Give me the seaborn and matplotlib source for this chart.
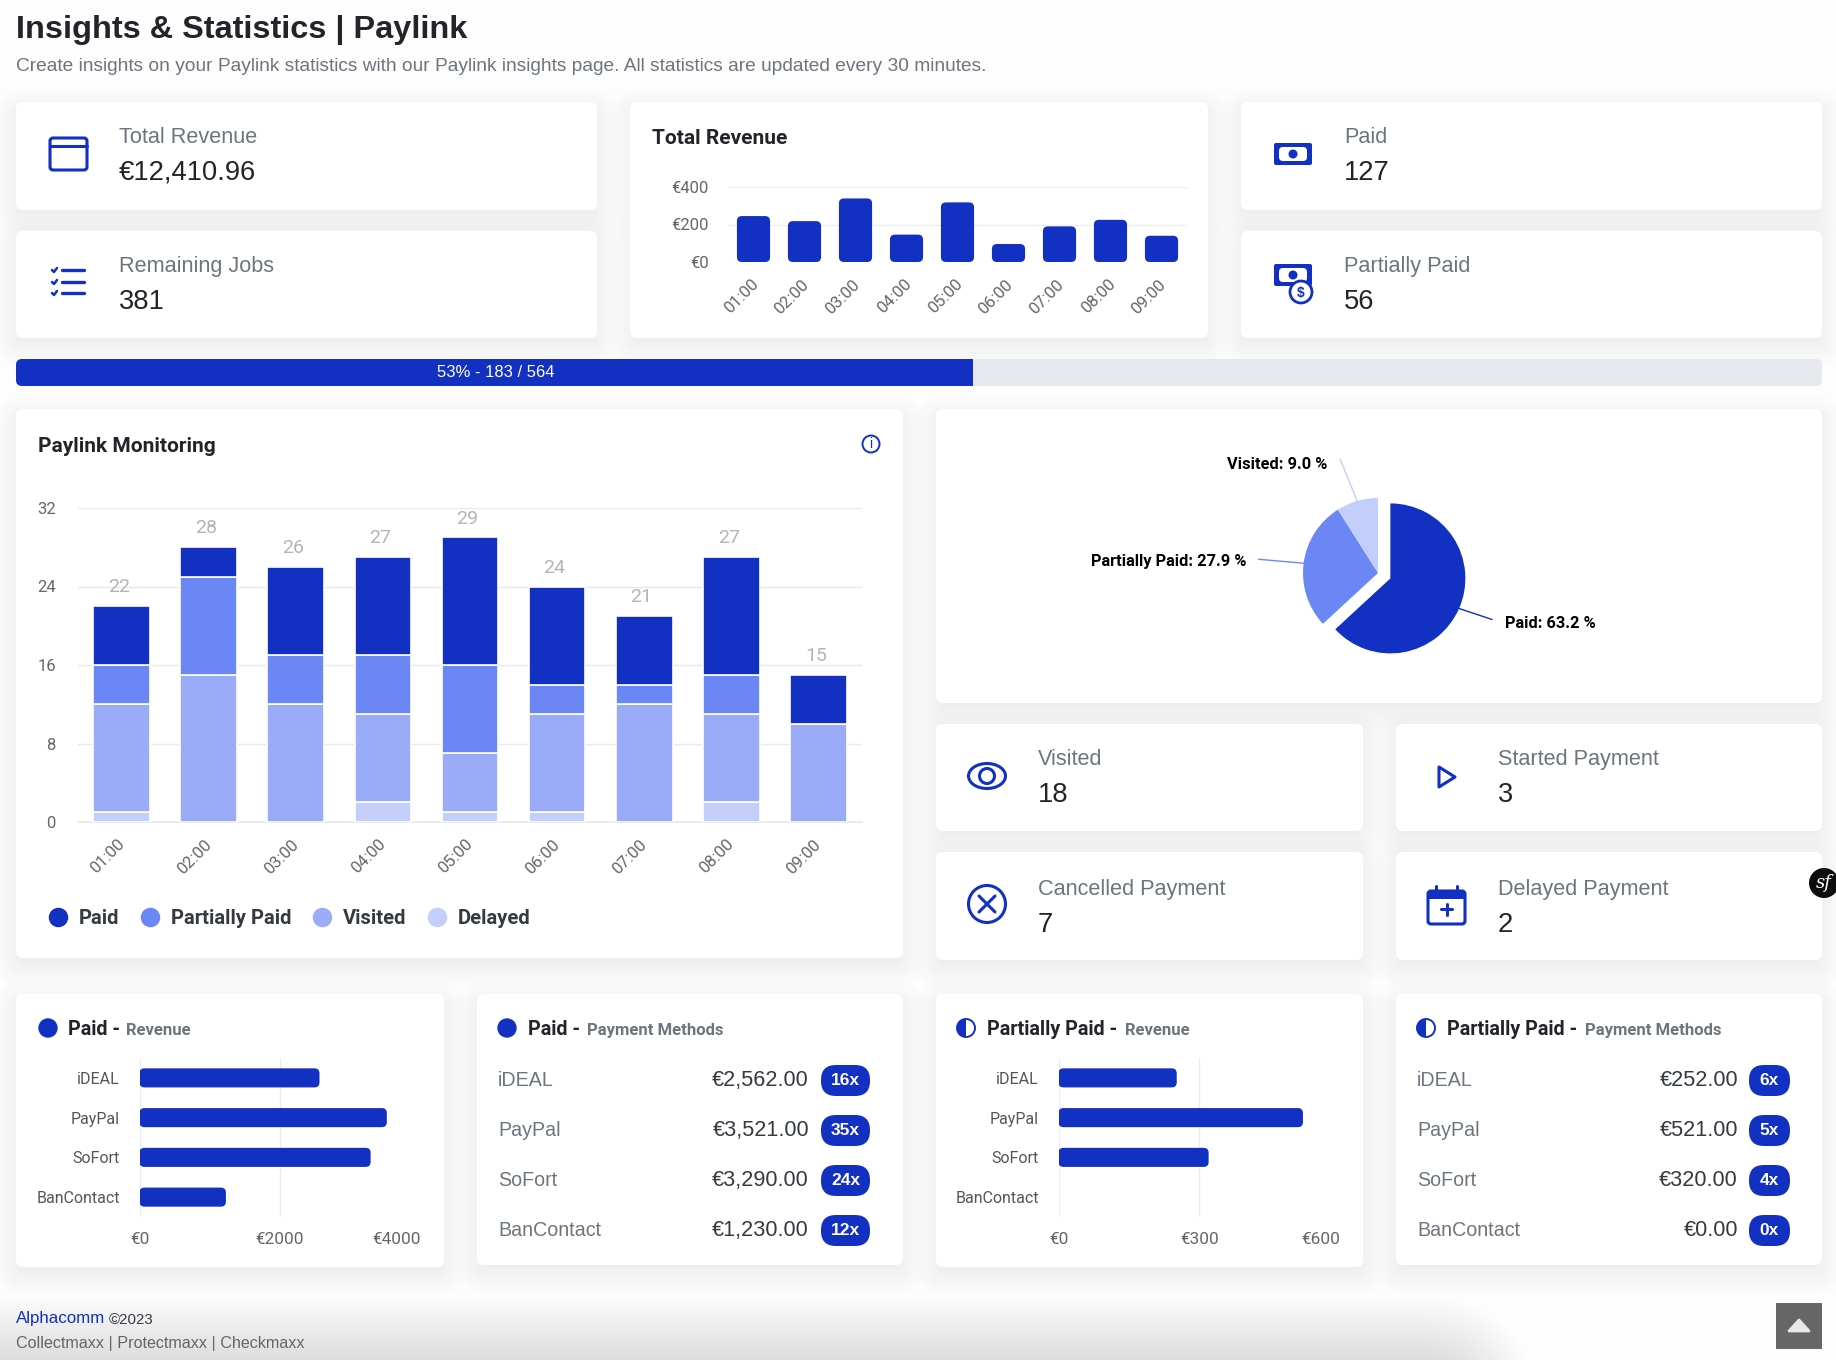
import matplotlib
matplotlib.use("Agg")
import matplotlib.pyplot as plt
import numpy as np
import seaborn as sns
from matplotlib.lines import Line2D
from matplotlib.patches import Circle, Ellipse, FancyBboxPatch, Polygon, Rectangle, Wedge
from matplotlib.transforms import ScaledTranslation

W, H = 1836, 1360

BLUE = "#1230c1"
MID = "#6b87f6"
SOFT = "#9aabf7"
PALE = "#c3cefb"
DARK = "#212529"
GRAY = "#6c757d"

hours = ["01:00", "02:00", "03:00", "04:00", "05:00", "06:00", "07:00", "08:00", "09:00"]
revenue = [245, 218, 339, 146, 318, 96, 190, 225, 140]

paid = [6, 3, 9, 10, 13, 10, 7, 12, 5]
partial = [4, 10, 5, 6, 9, 3, 2, 4, 0]
visited = [11, 15, 12, 9, 6, 10, 12, 9, 10]
delayed = [1, 0, 0, 2, 1, 1, 0, 2, 0]

pie_labels = ["Paid", "Partially Paid", "Visited"]
pie_values = [63.2, 27.9, 9.0]

methods = ["iDEAL", "PayPal", "SoFort", "BanContact"]
paid_amounts = [2562, 3521, 3290, 1230]
paid_counts = [16, 35, 24, 12]
part_amounts = [252, 521, 320, 0]
part_counts = [6, 5, 4, 0]

sns.set_theme(style="white")
plt.rcParams["font.family"] = ["Liberation Sans", "DejaVu Sans"]

fig = plt.figure(figsize=(W / 100, H / 100), dpi=100, facecolor="#fdfdfd")
bg = fig.add_axes([0, 0, 1, 1], zorder=0)
bg.set_xlim(0, W)
bg.set_ylim(H, 0)
bg.axis("off")


def px_axes(left, top, right, bottom):
    ax = fig.add_axes([left / W, 1 - bottom / H, (right - left) / W, (bottom - top) / H], zorder=2)
    ax.patch.set_alpha(0)
    return ax


def card(x0, y0, x1, y1):
    # soft bootstrap style shadow, built from stacked translucent boxes
    for g in range(-8, 24, 2):
        bg.add_patch(FancyBboxPatch((x0 - g, y0 + 8 - g), x1 - x0 + 2 * g, y1 - y0 + 2 * g,
                                    boxstyle=f"round,pad=0,rounding_size={max(g + 8, 1)}",
                                    fc="black", ec="none", alpha=0.0045, zorder=1))
    bg.add_patch(FancyBboxPatch((x0, y0), x1 - x0, y1 - y0, boxstyle="round,pad=0,rounding_size=7",
                                fc="white", ec="none", zorder=2))


def txt(x, y, s, size, color=DARK, weight="normal", ha="left", family=None, **kw):
    if family:
        kw["family"] = family
    return bg.text(x, y + 1.8, s, fontsize=size, color=color, fontweight=weight, ha=ha, va="center", zorder=6, **kw)


def stat(x, y, label, value):
    txt(x, y + 34, label, 15.6, GRAY)
    txt(x, y + 69, value, 19.7, DARK)


def line(xs, ys, lw=2.2, color=BLUE):
    bg.plot(xs, ys, color=color, lw=lw, zorder=6, solid_capstyle="round", solid_joinstyle="round")


def slanted(ax, shift):
    # rotated hour labels end just past the bar centre
    off = ScaledTranslation(shift / 100, 0, fig.dpi_scale_trans)
    for lab in ax.get_xticklabels():
        lab.set(rotation=45, ha="right", rotation_mode="anchor", family="Roboto")
        lab.set_transform(lab.get_transform() + off)
    for lab in ax.get_yticklabels():
        lab.set_family("Roboto")


def round_bars(ax, radius):
    # chart.js style rounded bars: swap the seaborn rectangles for rounded ones
    box = ax.get_window_extent()
    xl = ax.get_xlim()
    yl = ax.get_ylim()
    rx = radius * abs(xl[1] - xl[0]) / box.width
    ry = radius * abs(yl[1] - yl[0]) / box.height
    for p in list(ax.patches):
        x, y, w, h = p.get_x(), p.get_y(), p.get_width(), p.get_height()
        fc = p.get_facecolor()
        p.remove()
        if w == 0 or h == 0:
            continue
        ax.add_patch(FancyBboxPatch((x, y), w, h, boxstyle=f"round,pad=0,rounding_size={rx}",
                                    mutation_aspect=ry / rx, fc=fc, ec="none", zorder=3))


def hbar_chart(left, right, values, ticks, tick_labels):
    ax = px_axes(left, 1058, right, 1217)
    sns.barplot(x=values, y=methods, orient="h", color=BLUE, saturation=1, width=0.48, ax=ax)
    ax.set_xlim(ticks[0], ticks[-1])
    ax.set_ylim(3.5, -0.5)
    ax.set_xticks(ticks, tick_labels)
    ax.grid(axis="x", color="#ececec", lw=1)
    ax.xaxis.get_gridlines()[-1].set_visible(False)
    ax.set_axisbelow(True)
    sns.despine(ax=ax, left=True, bottom=True, top=True, right=True)
    ax.tick_params(axis="x", length=0, pad=11, labelsize=12.4, labelcolor="#666666")
    ax.tick_params(axis="y", length=0, pad=14, labelsize=11.5, labelcolor="#555555")
    ax.get_xticklabels()[-1].set_ha("right")
    for lab in ax.get_xticklabels() + ax.get_yticklabels():
        lab.set_family("Roboto")
    ax.set(xlabel="", ylabel="")
    round_bars(ax, 5)


def pay_list(label_x, amount_x, pill_l, pill_r, amounts, counts):
    for i, m in enumerate(methods):
        y = [1079, 1129, 1179, 1229][i]
        txt(label_x, y, m, 14.1, GRAY)
        txt(amount_x, y, f"€{amounts[i]:,.2f}", 15.6, "#343a40", ha="right")
        bg.add_patch(FancyBboxPatch((pill_l, y - 14), pill_r - pill_l, 31,
                                    boxstyle="round,pad=0,rounding_size=15", fc=BLUE, ec="none", zorder=5))
        txt((pill_l + pill_r) / 2, y, f"{counts[i]}x", 12.5, "white", "bold", ha="center")


# footer shadow along the bottom edge
for g in range(0, 100, 4):
    bg.add_patch(FancyBboxPatch((-200 - g, 1392 - g), 1640 + 2 * g, 200,
                                boxstyle=f"round,pad=0,rounding_size={30 + g}",
                                fc="black", ec="none", alpha=0.006, zorder=1))

txt(16, 28, "Insights & Statistics | Paylink", 23.4, DARK, "bold")
txt(16, 65, "Create insights on your Paylink statistics with our Paylink insights page. All statistics are updated every 30 minutes.",
    13.8, GRAY)

# top stat cards
for box in [(16, 102, 597, 210), (16, 231, 597, 338), (630, 102, 1208, 338), (1241, 102, 1822, 210), (1241, 231, 1822, 338)]:
    card(*box)
stat(119, 102, "Total Revenue", "€12,410.96")
stat(119, 231, "Remaining Jobs", "381")
stat(1344, 102, "Paid", "127")
stat(1344, 231, "Partially Paid", "56")

bg.add_patch(FancyBboxPatch((50, 138), 37, 32, boxstyle="round,pad=0,rounding_size=3", fc="none", ec=BLUE, lw=2.2, zorder=6))
line([50, 87], [146, 146])
for yy in [270, 282, 293]:
    line([62, 84], [yy, yy], 2.4)
    line([52, 54, 57], [yy, yy + 2, yy - 2], 1.8)


def note(cx, cy):
    bg.add_patch(FancyBboxPatch((cx - 19, cy - 11), 38, 22, boxstyle="round,pad=0,rounding_size=2", fc=BLUE, ec="none", zorder=5))
    bg.add_patch(FancyBboxPatch((cx - 14, cy - 7), 28, 14, boxstyle="round,pad=0,rounding_size=4", fc="white", ec="none", zorder=6))
    bg.add_patch(Circle((cx, cy), 4.5, fc=BLUE, ec="none", zorder=7))


note(1293, 154)
note(1293, 275)
bg.add_patch(Circle((1301, 292), 11, fc="white", ec=BLUE, lw=2, zorder=8))
bg.text(1301, 293, "$", fontsize=10, color=BLUE, ha="center", va="center", fontweight="bold", zorder=9)

# total revenue mini chart
txt(652, 137, "Total Revenue", 15, DARK, "bold", family="Roboto")
ax = px_axes(728, 187, 1187, 262)
sns.barplot(x=hours, y=revenue, color=BLUE, saturation=1, width=0.65, ax=ax)
ax.set_xlim(-0.5, 8.5)
ax.set_ylim(0, 400)
ax.set_yticks([0, 200, 400], ["€0", "€200", "€400"])
ax.grid(axis="y", color="#eeeeee", lw=1)
ax.set_axisbelow(True)
sns.despine(ax=ax, left=True, bottom=True)
ax.tick_params(axis="both", length=0, labelsize=12, labelcolor="#666666")
ax.tick_params(axis="y", pad=14)
ax.tick_params(axis="x", pad=10.5)
slanted(ax, -3)
ax.set(xlabel="", ylabel="")
round_bars(ax, 5)

# progress bar
bg.add_patch(FancyBboxPatch((16, 359), 1806, 27, boxstyle="round,pad=0,rounding_size=6", fc="#e5e8ec", ec="none", zorder=3))
bg.add_patch(FancyBboxPatch((16, 359), 300, 27, boxstyle="round,pad=0,rounding_size=6", fc=BLUE, ec="none", zorder=4))
bg.add_patch(Rectangle((24, 359), 949, 27, fc=BLUE, ec="none", zorder=4))
txt(496, 371, "53% - 183 / 564", 12, "white", ha="center")

# monitoring card
card(16, 409, 903, 958)
txt(38, 445, "Paylink Monitoring", 15, DARK, "bold", family="Roboto")
bg.add_patch(Circle((871, 444), 8.5, fc="none", ec=BLUE, lw=1.4, zorder=6))
bg.text(871, 444.5, "i", fontsize=10, color=BLUE, ha="center", va="center", zorder=7)

ax = px_axes(78, 508, 862, 822)
stack = [(delayed, PALE, "Delayed"), (visited, SOFT, "Visited"), (partial, MID, "Partially Paid"), (paid, BLUE, "Paid")]
base = np.zeros(len(hours))
for vals, col, name in stack:
    sns.barplot(x=hours, y=vals, bottom=base, color=col, saturation=1, width=0.65,
                edgecolor="white", linewidth=1.2, ax=ax, zorder=3)
    base = base + np.array(vals)
for i, total in enumerate(base):
    ax.text(i - 0.03, total + 1.0, f"{int(total)}", ha="center", va="bottom", fontsize=14, color="#b4b4b4", family="Roboto")
ax.set_xlim(-0.5, 8.5)
ax.set_ylim(0, 32)
ax.set_yticks([0, 8, 16, 24, 32])
ax.grid(axis="y", color="#e9e9e9", lw=1)
ax.set_axisbelow(True)
sns.despine(ax=ax, left=True)
ax.spines["bottom"].set_color("#e9e9e9")
ax.tick_params(axis="both", length=0, labelsize=12, labelcolor="#666666")
ax.tick_params(axis="y", pad=16)
ax.tick_params(axis="x", pad=10.5)
slanted(ax, -5)
ax.set(xlabel="", ylabel="")
handles = [Line2D([], [], ls="", marker="o", ms=13, color=c, label=n) for c, n in
           [(BLUE, "Paid"), (MID, "Partially Paid"), (SOFT, "Visited"), (PALE, "Delayed")]]
ax.legend(handles=handles, loc="center left", bbox_to_anchor=(-0.051, -0.308), ncol=4, frameon=False,
          prop={"family": "Roboto", "weight": "bold", "size": 14.5}, labelcolor="#343a40",
          handletextpad=0.01, columnspacing=0.55, borderpad=0, borderaxespad=0)

# pie card
card(936, 409, 1822, 703)
half = 170
r = 75
ax = px_axes(1378 - half, 573 - half, 1378 + half, 573 + half)
pie_colors = [BLUE, MID, PALE]
wedges, _ = ax.pie(pie_values, colors=pie_colors, startangle=90, counterclock=False, radius=1,
                   explode=[0.18, 0, 0], wedgeprops={"linewidth": 0})
ax.set_xlim(-half / r, half / r)
ax.set_ylim(-half / r, half / r)
ax.set_aspect("equal")
line_ends = [(33, -11), (-45, 4), (-17, 42)]
label_ends = [(46, -15), (-57, 2), (-30, 36)]
for w, lab, v, c, le, te in zip(wedges, pie_labels, pie_values, pie_colors, line_ends, label_ends):
    mid = np.radians((w.theta1 + w.theta2) / 2)
    rim = (w.center[0] + np.cos(mid), w.center[1] + np.sin(mid))
    ax.annotate("", xy=rim, xytext=le, textcoords="offset pixels",
                arrowprops=dict(arrowstyle="-", color=c, lw=1, shrinkA=0, shrinkB=0))
    ax.annotate(f"{lab}: {v:.1f} %", xy=rim, xytext=te, textcoords="offset pixels", va="center",
                ha="left" if le[0] > 0 else "right", fontsize=11.8, fontweight="bold", color="black", family="Roboto")

# lower stat cards
for box in [(936, 724, 1363, 831), (1396, 724, 1822, 831), (936, 852, 1363, 960), (1396, 852, 1822, 960)]:
    card(*box)
stat(1038, 724, "Visited", "18")
stat(1498, 724, "Started Payment", "3")
stat(1038, 854, "Cancelled Payment", "7")
stat(1498, 854, "Delayed Payment", "2")

bg.add_patch(Ellipse((987, 776), 37, 25, fc="none", ec=BLUE, lw=2.2, zorder=6))
bg.add_patch(Circle((987, 776), 7.5, fc="none", ec=BLUE, lw=2.2, zorder=6))
bg.add_patch(Polygon([(1439, 767), (1455, 777), (1439, 787)], closed=True, fc="none", ec=BLUE, lw=2.2, joinstyle="round", zorder=6))
bg.add_patch(Circle((987, 904), 18.5, fc="none", ec=BLUE, lw=2.2, zorder=6))
line([979, 995], [896, 912])
line([995, 979], [896, 912])
bg.add_patch(FancyBboxPatch((1428, 891), 37, 33, boxstyle="round,pad=0,rounding_size=3", fc="none", ec=BLUE, lw=2.2, zorder=6))
bg.add_patch(Rectangle((1428, 891), 37, 8, fc=BLUE, ec="none", zorder=6))
line([1436, 1436], [886, 891])
line([1457, 1457], [886, 891])
line([1441, 1452], [909, 909])
line([1446.5, 1446.5], [903.5, 914.5])

# symfony style badge at the edge
bg.add_patch(Circle((1824, 883), 15, fc="#0d0d0d", ec="none", zorder=8))
bg.text(1824, 883, "sf", fontsize=13, color="white", style="italic", ha="center", va="center", zorder=9,
        family="DejaVu Serif")

# bottom cards
for box in [(16, 994, 444, 1267), (477, 994, 903, 1265), (936, 994, 1363, 1267), (1396, 994, 1822, 1265)]:
    card(*box)


def heading(dot_x, text_x, sub_x, name, sub, half_dot):
    if half_dot:
        bg.add_patch(Circle((dot_x, 1028), 9, fc="white", ec=BLUE, lw=1.4, zorder=6))
        bg.add_patch(Wedge((dot_x, 1028), 9, 90, 270, fc=BLUE, ec="none", zorder=7))
    else:
        bg.add_patch(Circle((dot_x, 1028), 9.7, fc=BLUE, ec="none", zorder=6))
    txt(text_x, 1028, name + " -", 14.2, DARK, "bold", family="Roboto")
    txt(sub_x, 1029, sub, 12, GRAY, "bold", family="Roboto")


heading(48, 68, 126, "Paid", "Revenue", False)
heading(507, 528, 587, "Paid", "Payment Methods", False)
heading(966, 987, 1125, "Partially Paid", "Revenue", True)
heading(1426, 1447, 1585, "Partially Paid", "Payment Methods", True)

hbar_chart(139.5, 420.5, paid_amounts, [0, 2000, 4000], ["€0", "€2000", "€4000"])
hbar_chart(1058.5, 1340, part_amounts, [0, 300, 600], ["€0", "€300", "€600"])
pay_list(498, 809, 821, 870, paid_amounts, paid_counts)
pay_list(1417, 1738, 1749, 1790, part_amounts, part_counts)

# footer
txt(16, 1317, "Alphacomm", 12.2, "#1230c1")
txt(109, 1318, "©2023", 10.8, "#343a40")
txt(16, 1342, "Collectmaxx | Protectmaxx | Checkmaxx", 11.6, "#5f666d")
bg.add_patch(Rectangle((1776, 1303), 46, 46, fc="#666666", ec="none", zorder=6))
bg.add_patch(Polygon([(1789, 1331), (1799, 1320), (1809, 1331)], closed=True, fc="#e8e8e8", ec="#e8e8e8", lw=2, joinstyle="round", zorder=7))

fig.savefig("out.png", dpi=100, facecolor=fig.get_facecolor())
